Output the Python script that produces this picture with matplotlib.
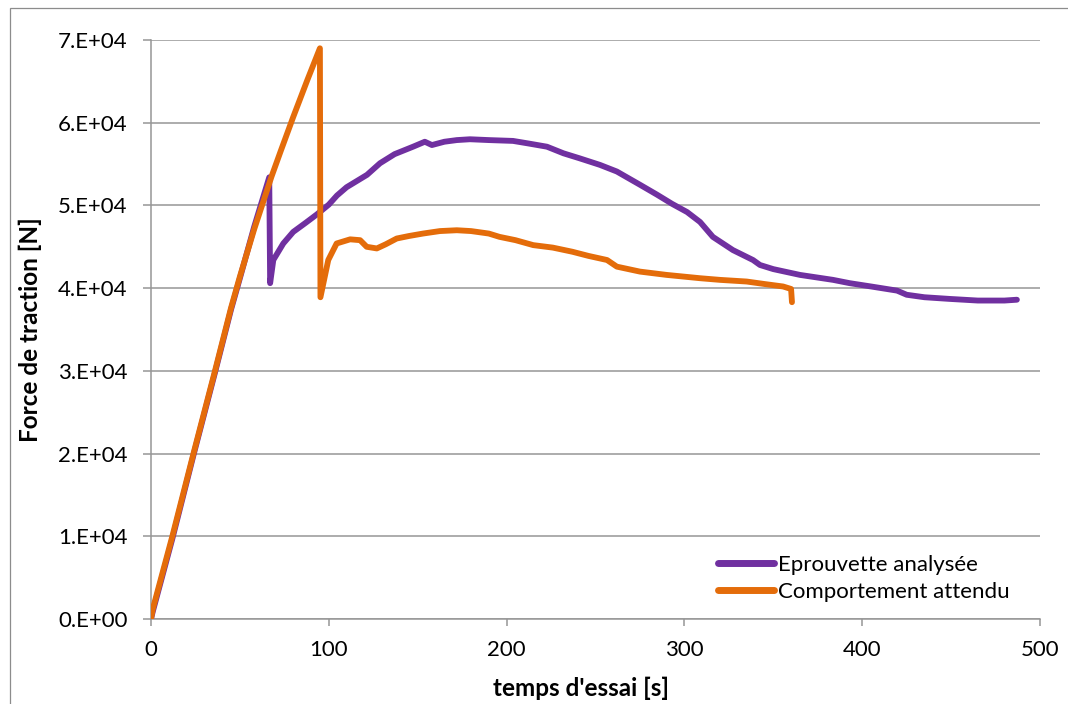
import matplotlib.pyplot as plt
from matplotlib.patches import Rectangle
from matplotlib.ticker import FuncFormatter

# Eprouvette analysee (measured specimen)
t_eprouvette = [0, 1, 12, 24, 36, 45, 50, 58, 66.5, 67, 68.8, 74.4, 80, 87, 93.2, 100, 104.6, 110,
                121.5, 128.8, 137, 147.4, 154, 156, 158, 165, 172, 179.4, 190, 203.6, 212, 222.7,
                232, 241, 252.5, 262, 275, 284.6, 293, 301.5, 308.8, 316, 327.3, 338.6, 342.5,
                350, 365, 383.6, 393, 405, 419.6, 425, 435, 449, 465, 480, 487]
f_eprouvette = [0, 900, 9700, 19900, 29800, 37400, 41200, 47400, 53400, 40600, 43400, 45400, 46800,
                47900, 48900, 50100, 51200, 52200, 53700, 55100, 56200, 57100, 57700, 57500, 57300,
                57700, 57900, 58000, 57900, 57800, 57500, 57100, 56300, 55700, 54900, 54100, 52500,
                51300, 50200, 49200, 48000, 46200, 44600, 43400, 42800, 42300, 41600, 41000, 40600,
                40200, 39700, 39200, 38900, 38700, 38500, 38500, 38600]

# Comportement attendu (expected behaviour)
t_attendu = [0, 1, 12, 24, 36, 45, 50, 58, 67.8, 73, 80, 88, 95, 95.3, 99.7, 104.4, 112, 117.6,
             121.3, 127, 132, 138.2, 145, 153, 162.5, 172, 180, 190, 196, 205, 215, 226, 237, 246,
             256.5, 262, 275, 290, 308.8, 320, 335, 345, 355.5, 360, 360.5]
f_attendu = [0, 1200, 10000, 20100, 30000, 37600, 41400, 47100, 53500, 56600, 60700, 65200, 69000,
             38900, 43400, 45400, 45900, 45800, 45000, 44800, 45300, 46000, 46300, 46600, 46900,
             47000, 46900, 46600, 46200, 45800, 45200, 44900, 44400, 43900, 43400, 42600, 42000,
             41600, 41200, 41000, 40800, 40500, 40200, 39900, 38300]

series_labels = ["Eprouvette analysée", "Comportement attendu"]
x_ticks = [0, 100, 200, 300, 400, 500]
y_ticks = [0, 10000, 20000, 30000, 40000, 50000, 60000, 70000]

plt.rcParams['font.family'] = ['Lato', 'DejaVu Sans']
grey = "#969696"

fig = plt.figure(figsize=(10.68, 7.04), dpi=100)
ax = fig.add_axes([151 / 1068, 1 - 619 / 704, 889 / 1068, 579 / 704])

# outer chart border
fig.patches.append(Rectangle((10 / 1068, -0.1), 1.2, 1.1 - 8 / 704, transform=fig.transFigure,
                             fill=False, edgecolor="#8c8c8c", linewidth=0.9))

ax.plot(t_eprouvette, f_eprouvette, color="#7030A0", lw=4.2, solid_capstyle="round",
        solid_joinstyle="round", label=series_labels[0], zorder=3)
ax.plot(t_attendu, f_attendu, color="#E46C0A", lw=4.2, solid_capstyle="round",
        solid_joinstyle="round", label=series_labels[1], zorder=4)

ax.set_xlim(0, 500)
ax.set_ylim(0, 70000)
ax.set_xticks(x_ticks)
ax.set_yticks(y_ticks)
ax.yaxis.set_major_formatter(FuncFormatter(lambda v, p: "%d.E+04" % round(v / 1e4) if v else "0.E+00"))

ax.grid(axis="y", color=grey, linewidth=1.1)
ax.set_axisbelow(True)
for s in ["top", "right"]:
    ax.spines[s].set_visible(False)
for s in ["left", "bottom"]:
    ax.spines[s].set_color(grey)
    ax.spines[s].set_linewidth(1.1)
ax.tick_params(axis="y", direction="out", length=6, width=1.1, color=grey, pad=11, labelsize=16)
ax.tick_params(axis="x", direction="out", length=5, width=1.1, color=grey, pad=10, labelsize=16)

ax.set_xlabel("temps d'essai [s]", fontsize=17.5, fontweight="bold")
ax.set_ylabel("Force de traction [N]", fontsize=17.5, fontweight="bold")
ax.xaxis.set_label_coords(0.484, -0.1)
ax.yaxis.set_label_coords(-0.123, 0.5)

leg = ax.legend(loc="lower left", bbox_to_anchor=(0.638, 0.03), frameon=False, fontsize=16,
                handlelength=2.5, handletextpad=0.2, labelspacing=0.3, borderpad=0, borderaxespad=0)
for h in leg.get_lines():
    h.set_linewidth(5)
    h.set_solid_capstyle("round")

fig.savefig("out.png", dpi=100)
